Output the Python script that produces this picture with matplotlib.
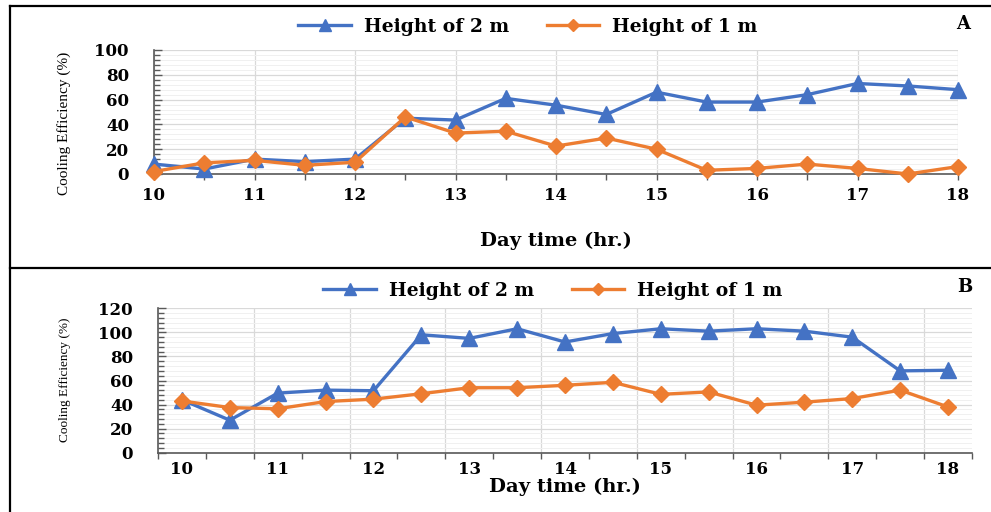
import matplotlib
matplotlib.use('Agg')
import matplotlib.pyplot as plt
from matplotlib.lines import Line2D
import numpy as np

# =============================================================================
# DATA
# =============================================================================

# Panel A: half-hourly readings, 10:00 to 18:00
hours_a = [10, 10.5, 11, 11.5, 12, 12.5, 13, 13.5, 14, 14.5, 15, 15.5, 16, 16.5, 17, 17.5, 18]
eff_2m_a = [8, 4, 12, 10, 12, 45, 43.5, 61, 55.5, 48, 66, 58, 58, 64, 73, 71, 68]
eff_1m_a = [2, 9, 11, 7, 9.5, 46, 33, 34.5, 22.5, 29, 20, 3, 4.5, 8, 4.5, 0, 6]

# Panel B: same half-hours, drawn on a category axis
eff_2m_b = [44, 27, 49.5, 52, 51.5, 98, 95, 103, 92, 99, 103, 101, 103, 101, 96, 68, 68.5]
eff_1m_b = [43, 37.5, 36.5, 42.5, 44.5, 49, 54, 54, 56, 58.5, 48.5, 50.5, 39.5, 42, 45, 52, 38]
hour_labels_b = ['10', '11', '12', '13', '14', '15', '16', '17', '18']

# =============================================================================
# STYLE
# =============================================================================

COLORS = {
    'blue': '#4472C4',
    'orange': '#ED7D31',
    'grid': '#d9d9d9',
    'minor_grid': '#f0f0f0',
    'axis': '#595959',
}
BOLD_FONT = {'family': 'DejaVu Serif', 'weight': 'bold'}
TICK_SIZE = 12

W, H = 991, 512
fig = plt.figure(figsize=(W / 100, H / 100), dpi=100, facecolor='white')


def fx(px):
    return px / W


def fy(py):
    return 1 - py / H


def style_axes(ax, ymax):
    for side in ('top', 'right'):
        ax.spines[side].set_visible(False)
    for side in ('left', 'bottom'):
        ax.spines[side].set_color(COLORS['axis'])
        ax.spines[side].set_linewidth(1.2)
    ax.set_ylim(0, ymax)
    ax.set_yticks(np.arange(0, ymax + 1, 20))
    ax.set_yticks(np.arange(0, ymax + 1, 4), minor=True)
    ax.grid(axis='y', which='major', color=COLORS['grid'], linewidth=0.9)
    ax.grid(axis='y', which='minor', color=COLORS['minor_grid'], linewidth=0.7)
    ax.tick_params(axis='y', which='major', direction='in', length=6, width=1,
                   color=COLORS['axis'], pad=18, labelsize=TICK_SIZE)
    ax.tick_params(axis='y', which='minor', direction='in', length=4, width=1,
                   color=COLORS['axis'])
    ax.set_axisbelow(True)
    for lbl in ax.get_yticklabels() + ax.get_xticklabels():
        lbl.set_fontfamily(BOLD_FONT['family'])
        lbl.set_fontweight('bold')


def plot_series(ax, x, y2, y1):
    ax.plot(x, y2, color=COLORS['blue'], lw=2.4, marker='^', ms=12,
            label='Height of 2 m', clip_on=False, zorder=3)
    ax.plot(x, y1, color=COLORS['orange'], lw=2.4, marker='D', ms=8.5,
            label='Height of 1 m', clip_on=False, zorder=4)


def add_legend(cx, cy):
    handles = [
        Line2D([], [], color=COLORS['blue'], lw=2.4, marker='^', ms=9),
        Line2D([], [], color=COLORS['orange'], lw=2.4, marker='D', ms=6),
    ]
    fig.legend(handles, ['Height of 2 m', 'Height of 1 m'], loc='center',
               bbox_to_anchor=(fx(cx), fy(cy)), ncol=2, frameon=False,
               prop={'family': BOLD_FONT['family'], 'weight': 'bold', 'size': 13.5},
               handlelength=2.8, columnspacing=2.0, handletextpad=0.7)


# =============================================================================
# PANEL A
# =============================================================================

ax_a = fig.add_axes([fx(154), fy(174), fx(958 - 154), (174 - 50) / H])
plot_series(ax_a, hours_a, eff_2m_a, eff_1m_a)
ax_a.set_xlim(10, 18)
ax_a.set_xticks(np.arange(10, 19, 1))
ax_a.set_xticks(np.arange(10.5, 18, 1), minor=True)
ax_a.grid(axis='x', which='major', color=COLORS['grid'], linewidth=0.9)
ax_a.tick_params(axis='x', which='both', direction='out', length=4, width=1,
                 color=COLORS['axis'], pad=5, labelsize=TICK_SIZE)
style_axes(ax_a, 100)
add_legend(528, 27)
fig.text(fx(64), fy(123), 'Cooling Efficiency (%)', rotation=90, ha='center',
         va='center', family='Liberation Serif', fontsize=11)
fig.text(fx(556), fy(241), 'Day time (hr.)', ha='center', va='center',
         fontsize=14, **BOLD_FONT)
fig.text(fx(963), fy(24), 'A', ha='center', va='center', fontsize=13, **BOLD_FONT)

# =============================================================================
# PANEL B (category axis: points sit between tick marks)
# =============================================================================

n_b = len(eff_2m_b)
x_b = np.arange(n_b) + 0.5
ax_b = fig.add_axes([fx(158), fy(452.7), fx(972 - 158), (452.7 - 308.3) / H])
plot_series(ax_b, x_b, eff_2m_b, eff_1m_b)
ax_b.set_xlim(0, n_b)
ax_b.set_xticks(x_b[::2])
ax_b.set_xticklabels(hour_labels_b)
ax_b.set_xticks(np.arange(0, n_b + 1), minor=True)
ax_b.tick_params(axis='x', which='major', length=0, pad=6, labelsize=TICK_SIZE)
ax_b.tick_params(axis='x', which='minor', direction='out', length=4, width=1,
                 color=COLORS['axis'])
for b in range(2, n_b, 2):
    ax_b.axvline(b, color=COLORS['grid'], linewidth=0.9, zorder=0)
style_axes(ax_b, 120)
add_legend(553, 291)
fig.text(fx(65), fy(380), 'Cooling Efficiency (%)', rotation=90, ha='center',
         va='center', family='Liberation Serif', fontsize=9.5)
fig.text(fx(565), fy(487), 'Day time (hr.)', ha='center', va='center',
         fontsize=14, **BOLD_FONT)
fig.text(fx(965), fy(287), 'B', ha='center', va='center', fontsize=13, **BOLD_FONT)

# =============================================================================
# FRAME LINES
# =============================================================================

frame_kw = dict(color='black', linewidth=1.6, transform=fig.transFigure)
fig.add_artist(Line2D([fx(10), 1], [fy(6), fy(6)], **frame_kw))
fig.add_artist(Line2D([fx(10), 1], [fy(268), fy(268)], **frame_kw))
fig.add_artist(Line2D([fx(10), fx(10)], [fy(6), 0], **frame_kw))

fig.savefig('out.png', dpi=100, facecolor='white')
